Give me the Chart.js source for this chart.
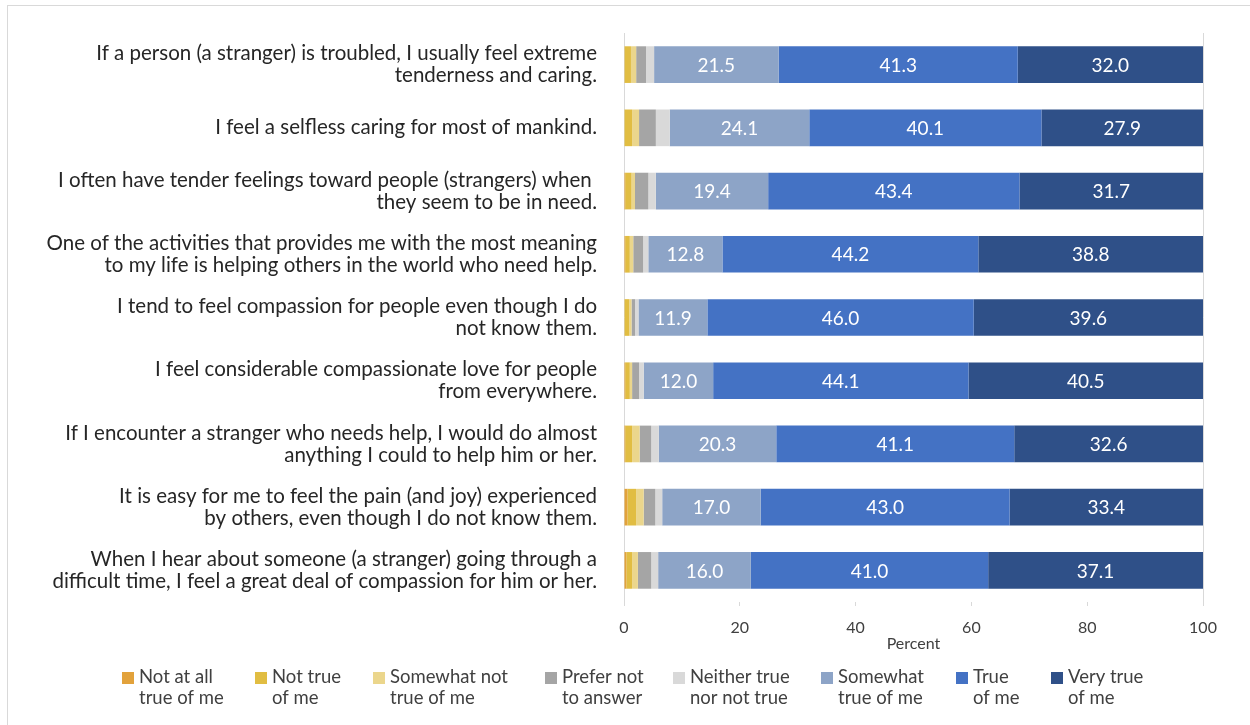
<!DOCTYPE html>
<html>
<head>
<meta charset="utf-8">
<title>Compassion items</title>
<script src="https://cdn.jsdelivr.net/npm/chart.js@4.4.1/dist/chart.umd.min.js"></script>
<style>
  html, body { margin: 0; padding: 0; background: #ffffff; }
  #wrap { width: 1250px; height: 725px; position: relative; }
</style>
</head>
<body>
<div id="wrap"><canvas id="chart" width="1250" height="725"></canvas></div>
<script>
// Survey items (one bar each), shown as multi-line axis labels
const categories = [
  ['If a person (a stranger) is troubled, I usually feel extreme', 'tenderness and caring.'],
  ['I feel a selfless caring for most of mankind.'],
  ['I often have tender feelings toward people (strangers) when ', 'they seem to be in need.'],
  ['One of the activities that provides me with the most meaning', 'to my life is helping others in the world who need help.'],
  ['I tend to feel compassion for people even though I do', 'not know them.'],
  ['I feel considerable compassionate love for people', 'from everywhere.'],
  ['If I encounter a stranger who needs help, I would do almost', 'anything I could to help him or her.'],
  ['It is easy for me to feel the pain (and joy) experienced', 'by others, even though I do not know them.'],
  ['When I hear about someone (a stranger) going through a', 'difficult time, I feel a great deal of compassion for him or her.']
];

// Response options, split into two legend lines
const seriesNames = [
  ['Not at all', 'true of me'],
  ['Not true', 'of me'],
  ['Somewhat not', 'true of me'],
  ['Prefer not', 'to answer'],
  ['Neither true', 'nor not true'],
  ['Somewhat', 'true of me'],
  ['True', 'of me'],
  ['Very true', 'of me']
];

// Percent of respondents per response option
const notAtAllTrue   = [0.1, 0.0, 0.2, 0.2, 0.1, 0.2, 0.2, 0.6, 0.4];
const notTrue        = [1.1, 1.4, 1.1, 0.8, 0.8, 0.8, 1.2, 1.5, 1.0];
const somewhatNot    = [0.9, 1.2, 0.6, 0.6, 0.4, 0.4, 1.3, 1.3, 1.0];
const preferNot      = [1.7, 2.9, 2.3, 1.7, 0.6, 1.2, 2.0, 2.0, 2.3];
const neitherTrue    = [1.4, 2.4, 1.3, 0.9, 0.6, 0.8, 1.3, 1.2, 1.2];
const somewhatTrue   = [21.5, 24.1, 19.4, 12.8, 11.9, 12.0, 20.3, 17.0, 16.0];
const trueOfMe       = [41.3, 40.1, 43.4, 44.2, 46.0, 44.1, 41.1, 43.0, 41.0];
const veryTrue       = [32.0, 27.9, 31.7, 38.8, 39.6, 40.5, 32.6, 33.4, 37.1];

const xTicks = [0, 20, 40, 60, 80, 100];

const seriesValues = [notAtAllTrue, notTrue, somewhatNot, preferNot, neitherTrue, somewhatTrue, trueOfMe, veryTrue];
const seriesColors = ['#E2A23B', '#E1BD42', '#EBD68C', '#A5A5A5', '#D9D9D9', '#8DA4C7', '#4472C4', '#2F5088'];
const labelledSeries = [5, 6, 7];

const FONT = 'Lato, "Open Sans", sans-serif';
Chart.defaults.font.family = FONT;
Chart.defaults.color = '#404040';

// Light frame around the whole figure
const framePlugin = {
  id: 'frame',
  beforeDraw(chart) {
    const ctx = chart.ctx;
    ctx.save();
    ctx.fillStyle = '#ffffff';
    ctx.fillRect(0, 0, chart.width, chart.height);
    ctx.strokeStyle = '#D9D9D9';
    ctx.lineWidth = 1;
    ctx.strokeRect(7.5, 5.5, chart.width + 20, chart.height + 20);
    ctx.restore();
  }
};

// Value labels inside the three "true" segments
const valueLabelPlugin = {
  id: 'valueLabels',
  afterDatasetsDraw(chart) {
    const ctx = chart.ctx;
    ctx.save();
    ctx.fillStyle = '#ffffff';
    ctx.font = '19px ' + FONT;
    ctx.textAlign = 'center';
    ctx.textBaseline = 'middle';
    labelledSeries.forEach(di => {
      const meta = chart.getDatasetMeta(di);
      meta.data.forEach((bar, i) => {
        const p = bar.getProps(['x', 'y', 'base'], true);
        const v = chart.data.datasets[di].data[i];
        ctx.fillText(v.toFixed(1), (p.x + p.base) / 2, p.y + 1);
      });
    });
    ctx.restore();
  }
};

// Two-line legend row below the axis
const legendRowPlugin = {
  id: 'legendRow',
  afterDraw(chart, args, opts) {
    const ctx = chart.ctx;
    ctx.save();
    ctx.font = opts.fontSize + 'px ' + FONT;
    ctx.textBaseline = 'alphabetic';
    ctx.textAlign = 'left';
    chart.data.datasets.forEach((ds, i) => {
      const x = opts.x[i];
      ctx.fillStyle = ds.backgroundColor;
      ctx.fillRect(x, opts.boxTop, opts.box, opts.box);
      ctx.fillStyle = '#404040';
      ds.legendLines.forEach((line, k) => {
        ctx.fillText(line, x + opts.box + opts.gap, opts.baseline + k * opts.lineGap);
      });
    });
    ctx.restore();
  }
};

const datasets = seriesValues.map((vals, i) => ({
  label: seriesNames[i].join(' '),
  legendLines: seriesNames[i],
  data: vals,
  backgroundColor: seriesColors[i],
  borderWidth: 0,
  barPercentage: 0.58,
  categoryPercentage: 1.0
}));

new Chart(document.getElementById('chart'), {
  type: 'bar',
  data: { labels: categories, datasets },
  plugins: [framePlugin, valueLabelPlugin, legendRowPlugin],
  options: {
    indexAxis: 'y',
    responsive: false,
    animation: false,
    layout: { padding: { left: 0, right: 47, top: 33, bottom: 72 } },
    plugins: {
      legend: { display: false },
      tooltip: { enabled: false },
      legendRow: {
        x: [122, 255, 373, 545, 673, 821, 956, 1051],
        boxTop: 672, box: 12, gap: 5, baseline: 683, lineGap: 20.5, fontSize: 18.5
      }
    },
    scales: {
      x: {
        stacked: true,
        min: 0, max: 100,
        afterBuildTicks(scale) { scale.ticks = xTicks.map(v => ({ value: v })); },
        afterFit(scale) { scale.height = 51; },
        border: { display: false },
        grid: {
          color: c => (c.tick && (c.tick.value === 0 || c.tick.value === 100)) ? '#D9D9D9' : 'rgba(0,0,0,0)',
          tickColor: '#D9D9D9',
          tickLength: 4,
          lineWidth: 1
        },
        ticks: { font: { size: 16 }, color: '#404040', padding: 12 },
        title: {
          display: true,
          text: 'Percent',
          font: { size: 16 },
          color: '#404040',
          padding: { top: 0, bottom: 0 }
        }
      },
      y: {
        stacked: true,
        afterFit(scale) {
          scale.width = 624;
          scale.paddingTop = 0;
          scale.paddingBottom = 0;
        },
        border: { display: false },
        grid: { display: false, drawTicks: false },
        ticks: {
          font: { size: 20.5, lineHeight: 22 / 20.5 },
          color: '#262626',
          padding: 27,
          autoSkip: false
        }
      }
    }
  }
});
</script>
</body>
</html>
